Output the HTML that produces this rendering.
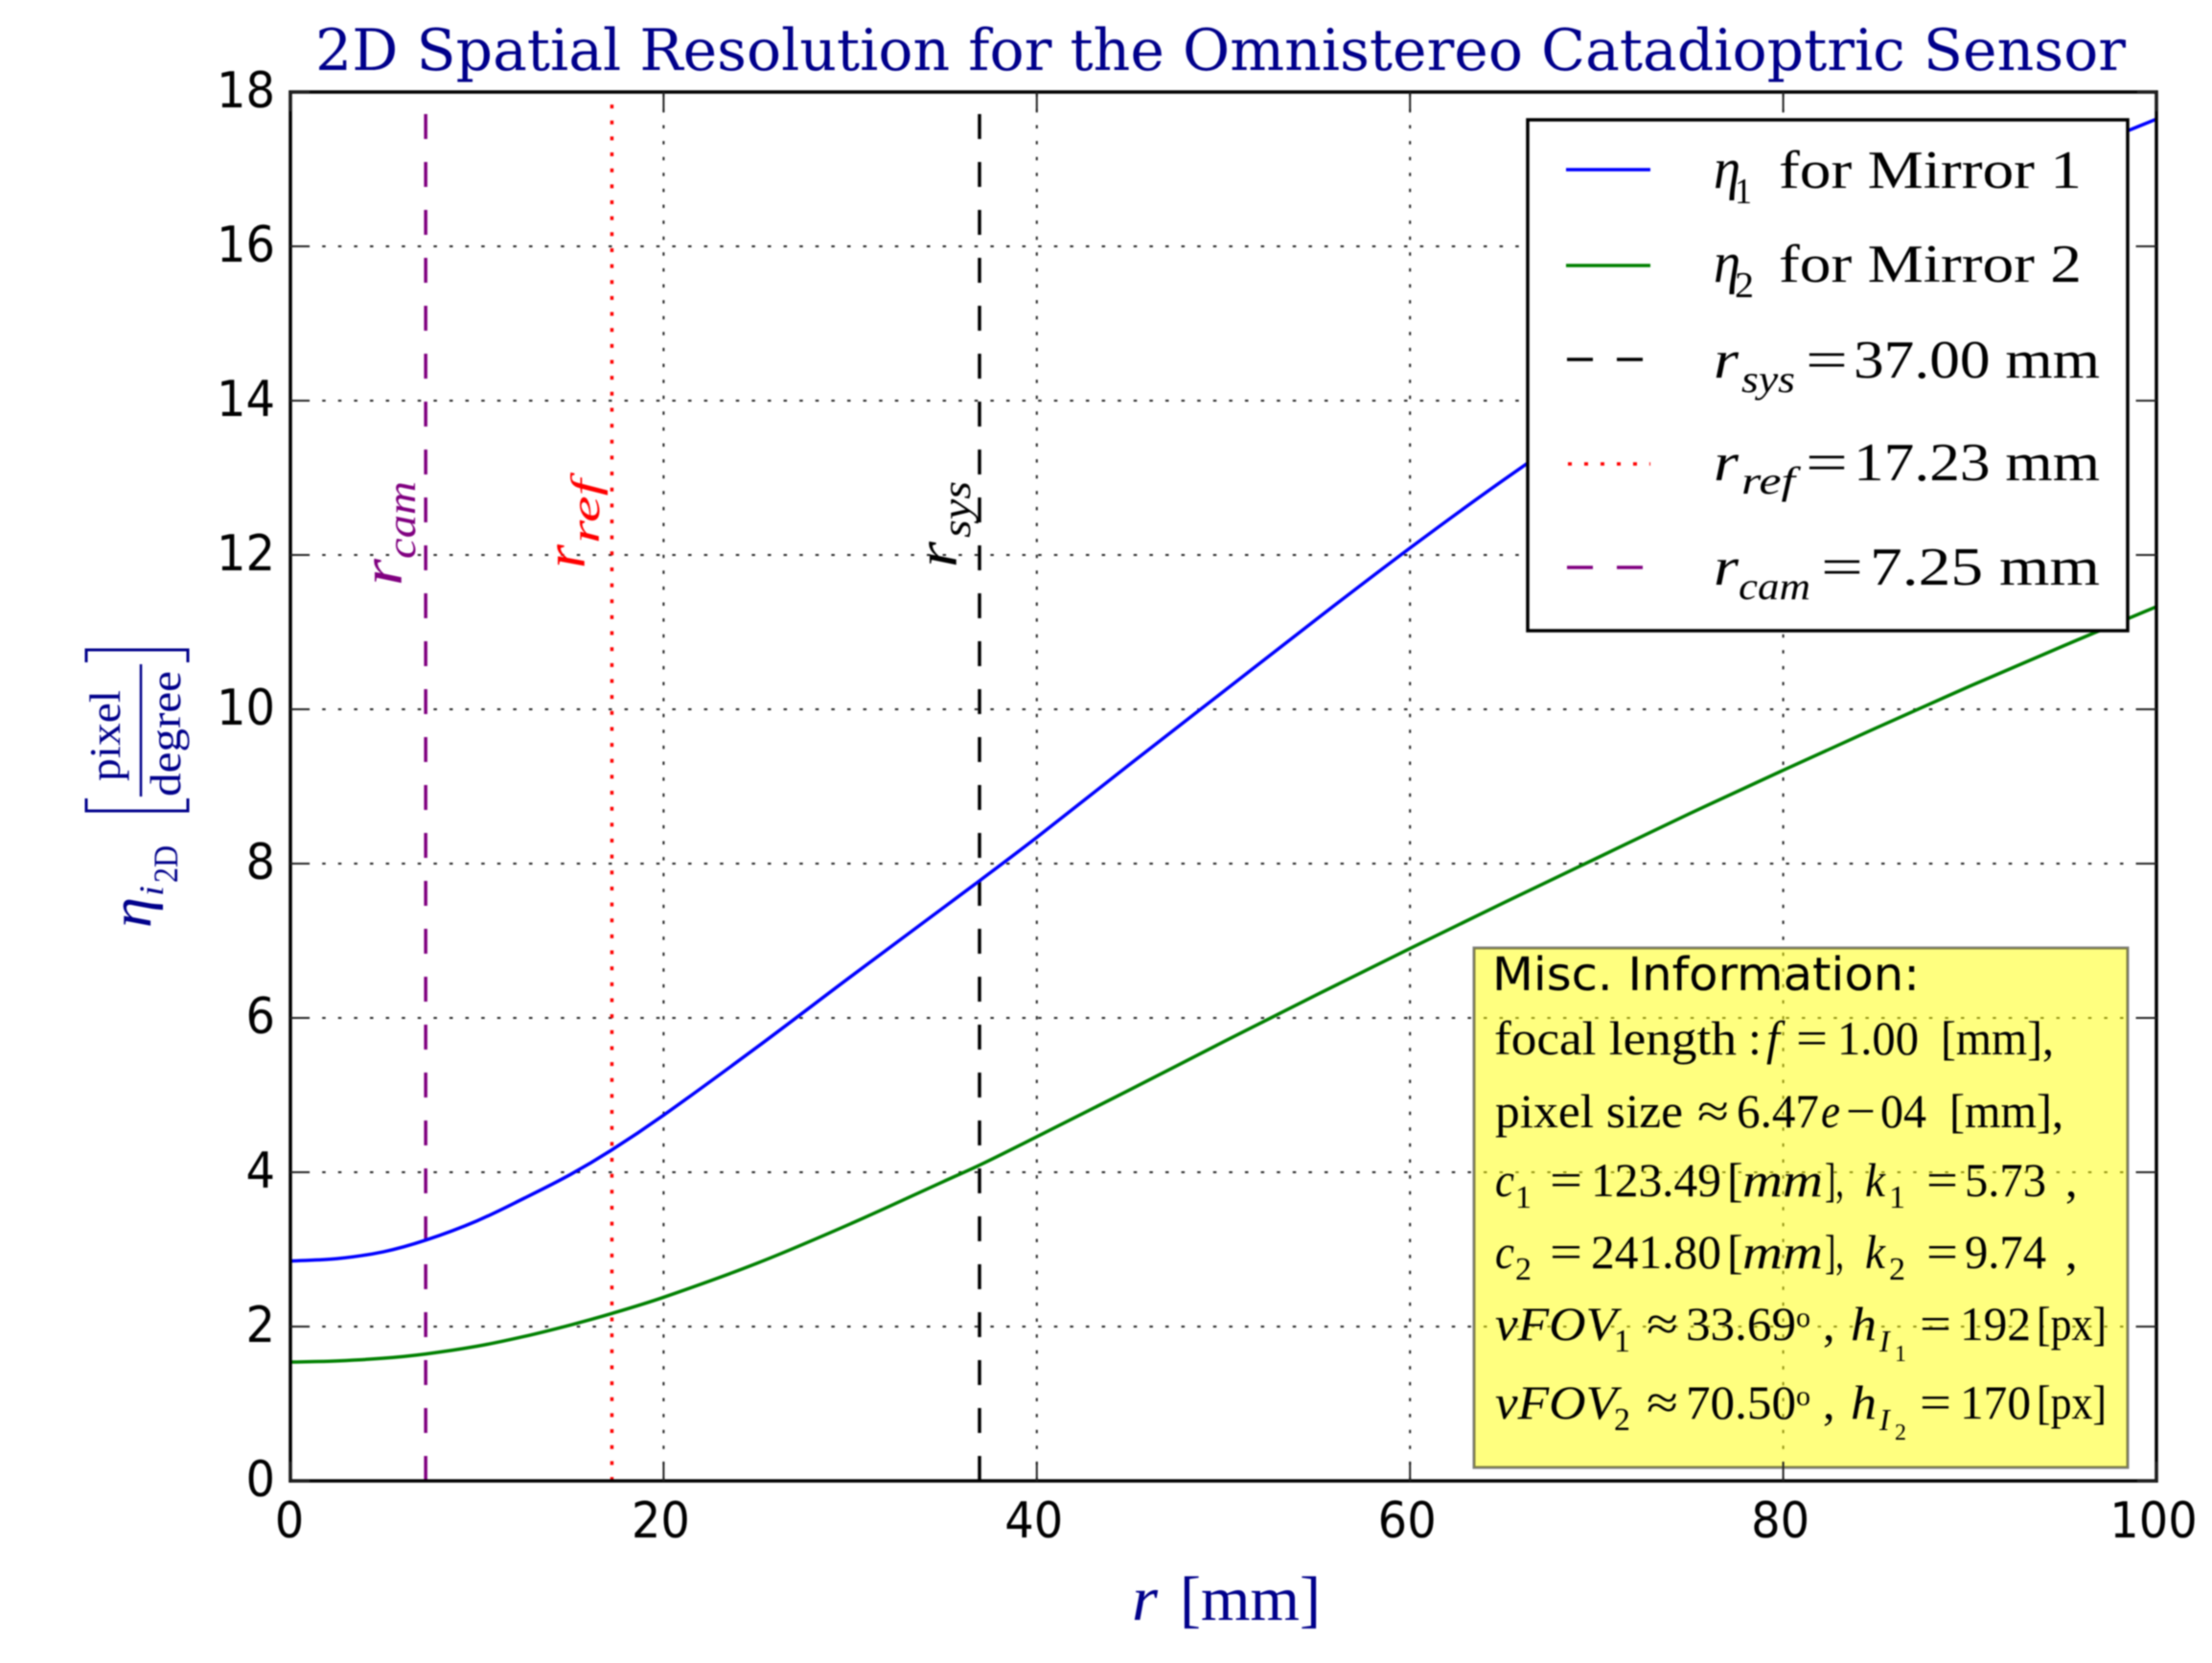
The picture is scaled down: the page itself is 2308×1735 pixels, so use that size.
<!DOCTYPE html>
<html lang="en">
<head>
<meta charset="utf-8">
<title>2D Spatial Resolution for the Omnistereo Catadioptric Sensor</title>
<style>
html,body{margin:0;padding:0;background:#fff;width:2308px;height:1735px;overflow:hidden}
svg{display:block;filter:blur(0.9px)}
text{font-family:"Liberation Serif","DejaVu Serif",serif;fill:#000}
.it{font-style:italic}
.b{fill:#00008b}
</style>
</head>
<body>
<svg id="chart" xmlns="http://www.w3.org/2000/svg" width="2308" height="1735" viewBox="0 0 2308 1735">
<rect width="2308" height="1735" fill="#fff"/>
<text x="329" y="73" font-size="60" textLength="1889" lengthAdjust="spacingAndGlyphs" class="b" style="font-family:'DejaVu Serif',serif">2D Spatial Resolution for the Omnistereo Catadioptric Sensor</text>

<g id="plot"></g>

<g>
<g>
<text transform="translate(419,611) rotate(-90)" font-size="60" class="it" textLength="28" lengthAdjust="spacingAndGlyphs" style="fill:#800080">r</text>
<text transform="translate(433,583) rotate(-90)" font-size="42" class="it" textLength="81" lengthAdjust="spacingAndGlyphs" style="fill:#800080">cam</text>
</g>
<g>
<text transform="translate(610,593) rotate(-90)" font-size="60" class="it" textLength="25" lengthAdjust="spacingAndGlyphs" style="fill:#ff0000">r</text>
<text transform="translate(625,567) rotate(-90)" font-size="42" class="it" textLength="67" lengthAdjust="spacingAndGlyphs" style="fill:#ff0000">ref</text>
</g>
<g>
<text transform="translate(998,592) rotate(-90)" font-size="60" class="it" textLength="27" lengthAdjust="spacingAndGlyphs">r</text>
<text transform="translate(1012,561) rotate(-90)" font-size="42" class="it" textLength="59" lengthAdjust="spacingAndGlyphs">sys</text>
</g>
</g>

<g>
<rect x="1594" y="125" width="626" height="533" fill="#fff" stroke="#000" stroke-width="3.5"/>
<g>
<line x1="1634" x2="1722" y1="177" y2="177" stroke="#0000ff" stroke-width="3.5"/>
<text x="1788" y="196" font-size="60" class="it" textLength="28" lengthAdjust="spacingAndGlyphs">η</text>
<text x="1810" y="212" font-size="38" textLength="18" lengthAdjust="spacingAndGlyphs">1</text>
<text x="1856" y="196" font-size="56" textLength="316" lengthAdjust="spacingAndGlyphs">for Mirror 1</text>
</g>
<g>
<line x1="1634" x2="1722" y1="277" y2="277" stroke="#008000" stroke-width="3.5"/>
<text x="1788" y="294" font-size="60" class="it" textLength="28" lengthAdjust="spacingAndGlyphs">η</text>
<text x="1810" y="310" font-size="38" textLength="20" lengthAdjust="spacingAndGlyphs">2</text>
<text x="1856" y="294" font-size="56" textLength="316" lengthAdjust="spacingAndGlyphs">for Mirror 2</text>
</g>
<g>
<line x1="1635" x2="1714" y1="375" y2="375" stroke="#000" stroke-width="3.5" stroke-dasharray="27 25"/>
<text x="1788" y="394" font-size="56" class="it" textLength="26" lengthAdjust="spacingAndGlyphs">r</text>
<text x="1817" y="409" font-size="40" class="it" textLength="56" lengthAdjust="spacingAndGlyphs">sys</text>
<text x="1884" y="394" font-size="56" textLength="44" lengthAdjust="spacingAndGlyphs">=</text>
<text x="1934" y="394" font-size="56" textLength="257" lengthAdjust="spacingAndGlyphs">37.00 mm</text>
</g>
<g>
<line x1="1636" x2="1722" y1="484" y2="484" stroke="#ff0000" stroke-width="3.5" stroke-dasharray="4 13"/>
<text x="1788" y="501" font-size="56" class="it" textLength="26" lengthAdjust="spacingAndGlyphs">r</text>
<text x="1817" y="515" font-size="40" class="it" textLength="56" lengthAdjust="spacingAndGlyphs">ref</text>
<text x="1884" y="501" font-size="56" textLength="44" lengthAdjust="spacingAndGlyphs">=</text>
<text x="1934" y="501" font-size="56" textLength="257" lengthAdjust="spacingAndGlyphs">17.23 mm</text>
</g>
<g>
<line x1="1635" x2="1714" y1="592" y2="592" stroke="#800080" stroke-width="3.5" stroke-dasharray="27 25"/>
<text x="1788" y="610" font-size="56" class="it" textLength="26" lengthAdjust="spacingAndGlyphs">r</text>
<text x="1814" y="625" font-size="40" class="it" textLength="75" lengthAdjust="spacingAndGlyphs">cam</text>
<text x="1900" y="610" font-size="56" textLength="44" lengthAdjust="spacingAndGlyphs">=</text>
<text x="1951" y="610" font-size="56" textLength="240" lengthAdjust="spacingAndGlyphs">7.25 mm</text>
</g>
</g>

<g>
<rect x="1538" y="989" width="682" height="542" fill="#ffff00" fill-opacity="0.5" stroke="#000" stroke-opacity="0.5" stroke-width="3"/>
<text x="1557" y="1033" font-size="48" textLength="446" lengthAdjust="spacingAndGlyphs" style="font-family:'DejaVu Sans',sans-serif">Misc. Information:</text>
<g font-size="50">
<text x="1559" y="1100" textLength="253" lengthAdjust="spacingAndGlyphs">focal length</text>
<text x="1824" y="1100">:</text>
<text x="1843" y="1100" class="it">f</text>
<text x="1874" y="1100" textLength="33" lengthAdjust="spacingAndGlyphs">=</text>
<text x="1917" y="1100" textLength="85" lengthAdjust="spacingAndGlyphs">1.00</text>
<text x="2025" y="1100" textLength="118" lengthAdjust="spacingAndGlyphs">[mm],</text>
</g>
<g font-size="50">
<text x="1560" y="1176" textLength="196" lengthAdjust="spacingAndGlyphs">pixel size</text>
<text x="1771" y="1176" textLength="33" lengthAdjust="spacingAndGlyphs">≈</text>
<text x="1812" y="1176" textLength="86" lengthAdjust="spacingAndGlyphs">6.47</text>
<text x="1900" y="1176" class="it" textLength="20" lengthAdjust="spacingAndGlyphs">e</text>
<text x="1926" y="1176" textLength="31" lengthAdjust="spacingAndGlyphs">−</text>
<text x="1962" y="1176" textLength="48" lengthAdjust="spacingAndGlyphs">04</text>
<text x="2034" y="1176" textLength="119" lengthAdjust="spacingAndGlyphs">[mm],</text>
</g>
<g font-size="50">
<text x="1560" y="1248" class="it" textLength="20" lengthAdjust="spacingAndGlyphs">c</text>
<text x="1581" y="1260" font-size="34">1</text>
<text x="1617" y="1248" textLength="34" lengthAdjust="spacingAndGlyphs">=</text>
<text x="1660" y="1248" textLength="136" lengthAdjust="spacingAndGlyphs">123.49</text>
<text x="1802" y="1248">[</text>
<text x="1818" y="1248" class="it" textLength="84" lengthAdjust="spacingAndGlyphs">mm</text>
<text x="1904" y="1248" textLength="20" lengthAdjust="spacingAndGlyphs">],</text>
<text x="1946" y="1248" class="it" textLength="21" lengthAdjust="spacingAndGlyphs">k</text>
<text x="1971" y="1260" font-size="34">1</text>
<text x="2010" y="1248" textLength="33" lengthAdjust="spacingAndGlyphs">=</text>
<text x="2050" y="1248" textLength="85" lengthAdjust="spacingAndGlyphs">5.73</text>
<text x="2155" y="1248">,</text>
</g>
<g font-size="50">
<text x="1560" y="1323" class="it" textLength="20" lengthAdjust="spacingAndGlyphs">c</text>
<text x="1581" y="1335" font-size="34">2</text>
<text x="1617" y="1323" textLength="34" lengthAdjust="spacingAndGlyphs">=</text>
<text x="1660" y="1323" textLength="136" lengthAdjust="spacingAndGlyphs">241.80</text>
<text x="1802" y="1323">[</text>
<text x="1818" y="1323" class="it" textLength="84" lengthAdjust="spacingAndGlyphs">mm</text>
<text x="1904" y="1323" textLength="20" lengthAdjust="spacingAndGlyphs">],</text>
<text x="1946" y="1323" class="it" textLength="21" lengthAdjust="spacingAndGlyphs">k</text>
<text x="1971" y="1335" font-size="34">2</text>
<text x="2010" y="1323" textLength="33" lengthAdjust="spacingAndGlyphs">=</text>
<text x="2050" y="1323" textLength="85" lengthAdjust="spacingAndGlyphs">9.74</text>
<text x="2155" y="1323">,</text>
</g>
<g font-size="50">
<text x="1560" y="1398" class="it" textLength="127" lengthAdjust="spacingAndGlyphs">vFOV</text>
<text x="1684" y="1410" font-size="34">1</text>
<text x="1718" y="1398" textLength="33" lengthAdjust="spacingAndGlyphs">≈</text>
<text x="1759" y="1398" textLength="115" lengthAdjust="spacingAndGlyphs">33.69</text>
<text x="1874" y="1384" font-size="30">o</text>
<text x="1902" y="1398">,</text>
<text x="1931" y="1398" class="it" textLength="27" lengthAdjust="spacingAndGlyphs">h</text>
<text x="1961" y="1410" font-size="32" class="it">I</text>
<text x="1977" y="1420" font-size="24">1</text>
<text x="2003" y="1398" textLength="33" lengthAdjust="spacingAndGlyphs">=</text>
<text x="2045" y="1398" textLength="74" lengthAdjust="spacingAndGlyphs">192</text>
<text x="2125" y="1398" textLength="73" lengthAdjust="spacingAndGlyphs">[px]</text>
</g>
<g font-size="50">
<text x="1560" y="1480" class="it" textLength="127" lengthAdjust="spacingAndGlyphs">vFOV</text>
<text x="1684" y="1492" font-size="34">2</text>
<text x="1718" y="1480" textLength="33" lengthAdjust="spacingAndGlyphs">≈</text>
<text x="1759" y="1480" textLength="115" lengthAdjust="spacingAndGlyphs">70.50</text>
<text x="1874" y="1466" font-size="30">o</text>
<text x="1902" y="1480">,</text>
<text x="1931" y="1480" class="it" textLength="27" lengthAdjust="spacingAndGlyphs">h</text>
<text x="1961" y="1492" font-size="32" class="it">I</text>
<text x="1977" y="1502" font-size="24">2</text>
<text x="2003" y="1480" textLength="33" lengthAdjust="spacingAndGlyphs">=</text>
<text x="2045" y="1480" textLength="74" lengthAdjust="spacingAndGlyphs">170</text>
<text x="2125" y="1480" textLength="73" lengthAdjust="spacingAndGlyphs">[px]</text>
</g>
</g>

<g id="frame">
<rect x="303" y="96" width="1947" height="1449" fill="none" stroke="#000" stroke-width="3.5"/>
</g>

<g>
<text x="1181" y="1690" font-size="66" class="it b" textLength="27" lengthAdjust="spacingAndGlyphs">r</text>
<text x="1231" y="1690" font-size="66" class="b" textLength="147" lengthAdjust="spacingAndGlyphs">[mm]</text>
</g>

<g>
<text transform="translate(157,968) rotate(-90)" font-size="60" class="it b" textLength="32" lengthAdjust="spacingAndGlyphs">η</text>
<text transform="translate(170,935) rotate(-90)" font-size="36" class="it b" textLength="11" lengthAdjust="spacingAndGlyphs">i</text>
<text transform="translate(185,921) rotate(-90)" font-size="36" class="b" textLength="39" lengthAdjust="spacingAndGlyphs">2D</text>
<text transform="translate(125,815) rotate(-90)" font-size="46" class="b" textLength="95" lengthAdjust="spacingAndGlyphs">pixel</text>
<text transform="translate(188,831) rotate(-90)" font-size="46" class="b" textLength="131" lengthAdjust="spacingAndGlyphs">degree</text>
<line x1="147" x2="147" y1="693" y2="831" stroke="#00008b" stroke-width="2.5"/>
<path d="M90 691V678H196V691M90 833V846H196V833" fill="none" stroke="#00008b" stroke-width="3"/>
</g>
</svg>

<script>
// --- chart data ---
var rValues = [0,2.5,5,7.25,10,12.5,15,17.23,20,25,30,35,37,40,45,50,55,60,65,70,75,80,85,90,95,100];
var eta1Values = [2.85,2.88,2.97,3.12,3.37,3.66,3.97,4.29,4.74,5.62,6.53,7.43,7.79,8.34,9.29,10.23,11.17,12.09,12.97,13.8,14.58,15.3,15.97,16.6,17.15,17.65];
var eta2Values = [1.54,1.555,1.59,1.645,1.745,1.87,2.02,2.17,2.38,2.82,3.33,3.88,4.1,4.46,5.07,5.69,6.3,6.9,7.49,8.07,8.65,9.21,9.76,10.3,10.82,11.33];
var xTickLabels = [0,20,40,60,80,100];
var yTickLabels = [0,2,4,6,8,10,12,14,16,18];
var rSys = 36.93;
var rRef = 17.23;
var rCam = 7.25;

var SVGNS = 'http://www.w3.org/2000/svg';
var plot = document.getElementById('plot');
var frame = document.getElementById('frame');
var AX = {left:303, right:2250, top:96, bottom:1545, xMax:100, yMax:18};
function xScale(v){ return AX.left + (AX.right-AX.left)*v/AX.xMax; }
function yScale(v){ return AX.bottom - (AX.bottom-AX.top)*v/AX.yMax; }
function make(tag, attrs, parent){
  var el = document.createElementNS(SVGNS, tag);
  for (var k in attrs) el.setAttribute(k, attrs[k]);
  parent.appendChild(el);
  return el;
}
function smoothPath(xs, ys){
  var p = xs.map(function(x,i){ return [xScale(x), yScale(ys[i])]; });
  var d = 'M'+p[0][0].toFixed(2)+' '+p[0][1].toFixed(2);
  for (var i=0;i<p.length-1;i++){
    var a=p[Math.max(i-1,0)], b=p[i], c=p[i+1], e=p[Math.min(i+2,p.length-1)];
    var h=c[0]-b[0];
    var m1=(c[1]-a[1])/(c[0]-a[0]);
    var m2=(e[1]-b[1])/(e[0]-b[0]);
    d+=' C'+(b[0]+h/3).toFixed(2)+' '+(b[1]+m1*h/3).toFixed(2)+' '+(c[0]-h/3).toFixed(2)+' '+(c[1]-m2*h/3).toFixed(2)+' '+c[0].toFixed(2)+' '+c[1].toFixed(2);
  }
  return d;
}

var defs = make('defs', {}, plot);
var clip = make('clipPath', {id:'axes-clip'}, defs);
make('rect', {x:AX.left, y:AX.top, width:AX.right-AX.left, height:AX.bottom-AX.top}, clip);

var gridGroup = make('g', {stroke:'#222', 'stroke-width':2, 'stroke-dasharray':'3.5 13.1'}, plot);


xTickLabels.forEach(function(v){
  if (v===0 || v===AX.xMax) return;
  var gl = make('line', {x1:xScale(v), x2:xScale(v), y1:AX.bottom, y2:AX.top}, gridGroup);
  
  
});
yTickLabels.forEach(function(v){
  if (v===0 || v===AX.yMax) return;
  var gl = make('line', {x1:AX.left, x2:AX.right, y1:yScale(v), y2:yScale(v)}, gridGroup);
  
  
});

var marks = make('g', {'clip-path':'url(#axes-clip)', fill:'none'}, plot);



var sysLine = make('line', {x1:xScale(rSys), x2:xScale(rSys), y1:yScale(0), y2:yScale(AX.yMax), stroke:'#000', 'stroke-width':3.5, 'stroke-dasharray':'26 24'}, marks);


var refLine = make('line', {x1:xScale(rRef), x2:xScale(rRef), y1:yScale(0), y2:yScale(AX.yMax), stroke:'#ff0000', 'stroke-width':3.5, 'stroke-dasharray':'4 12.65'}, marks);


var camLine = make('line', {x1:xScale(rCam), x2:xScale(rCam), y1:yScale(0), y2:yScale(AX.yMax), stroke:'#800080', 'stroke-width':3.5, 'stroke-dasharray':'26 24'}, marks);



var eta1Line = make('path', {d:smoothPath(rValues, eta1Values), stroke:'#0000ff', 'stroke-width':3.5}, marks);


var eta2Line = make('path', {d:smoothPath(rValues, eta2Values), stroke:'#008000', 'stroke-width':3.5}, marks);



function tickLabel(text, x, y, anchor, name){
  var t = make('text', {transform:'translate('+x+','+y+') scale(1,1.08)', 'font-size':48, 'text-anchor':anchor, style:"font-family:'DejaVu Sans',sans-serif"}, frame);
  t.textContent = text;
  
  
}
xTickLabels.forEach(function(v){
  var x = xScale(v);
  [[AX.bottom, AX.bottom-20],[AX.top, AX.top+20]].forEach(function(s){
    var tk = make('line', {x1:x, x2:x, y1:s[0], y2:s[1], stroke:'#222', 'stroke-width':2}, frame);
    
    
  });
  tickLabel(String(v), v===0 ? x-1 : x-3, 1604, 'middle', 'x-tick-label');
});
yTickLabels.forEach(function(v){
  var y = yScale(v);
  [[AX.left, AX.left+20],[AX.right, AX.right-20]].forEach(function(s){
    var tk = make('line', {x1:s[0], x2:s[1], y1:y, y2:y, stroke:'#222', 'stroke-width':2}, frame);
    
    
  });
  tickLabel(String(v), 287, y+16, 'end', 'y-tick-label');
});
</script>
</body>
</html>
